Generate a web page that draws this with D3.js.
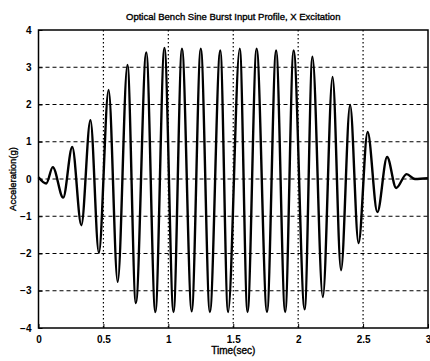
<!DOCTYPE html>
<html>
<head>
<meta charset="utf-8">
<script src="https://cdn.jsdelivr.net/npm/d3@7/dist/d3.min.js"></script>
<style>
  body { margin: 0; background: #fff; }
  text { font-family: "Liberation Sans", Arial, sans-serif; fill: #000; }
</style>
</head>
<body>
<div class="chart"></div>
<script>
// chart data (extremes of the burst)
var times = [0, 0.06, 0.11, 0.19, 0.26, 0.33, 0.40, 0.465, 0.54, 0.61, 0.685,
  0.75, 0.83, 0.90, 0.97, 1.04, 1.105, 1.18, 1.25, 1.32, 1.40, 1.46, 1.55,
  1.61, 1.68, 1.76, 1.83, 1.90, 1.965, 2.05, 2.11, 2.19, 2.265, 2.33, 2.40,
  2.465, 2.535, 2.61, 2.685, 2.755, 2.835, 2.9, 3.0];
var accel = [0.05, -0.12, 0.32, -0.5, 0.86, -1.24, 1.58, -1.98, 2.39, -2.76, 3.06,
  -3.33, 3.4, -3.57, 3.52, -3.57, 3.5, -3.55, 3.5, -3.57, 3.45, -3.57, 3.5,
  -3.57, 3.5, -3.57, 3.45, -3.57, 3.45, -3.5, 3.28, -3.17, 2.74, -2.45, 1.99,
  -1.72, 1.26, -0.89, 0.59, -0.24, 0.13, 0.0, 0.02];
var xTicks = [0, 0.5, 1, 1.5, 2, 2.5, 3];
var xTickLabels = ["0", "0.5", "1", "1.5", "2", "2.5", "3"];
var yTicks = [-4, -3, -2, -1, 0, 1, 2, 3, 4];

var svgWidth = 430;
var svgHeight = 361;
var margin = { top: 30, right: 2, bottom: 33, left: 38.5 };
var width = svgWidth - margin.left - margin.right;
var height = svgHeight - margin.top - margin.bottom;

var svg = d3.select(".chart").append("svg")
  .attr("width", svgWidth)
  .attr("height", svgHeight);

var chart = svg.append("g")
  .attr("transform", "translate(" + margin.left + "," + margin.top + ")");

var x = d3.scaleLinear().domain([0, 3]).range([0, width]);
var y = d3.scaleLinear().domain([-4, 4]).range([height, 0]);

// dotted grid
chart.append("g").selectAll("line")
  .data(xTicks.slice(1, -1))
  .enter().append("line")
  .attr("x1", function(d) { return x(d); })
  .attr("x2", function(d) { return x(d); })
  .attr("y1", 0).attr("y2", height)
  .attr("stroke", "#000").attr("stroke-width", 1.2)
  .attr("stroke-dasharray", "1.5,2.5");

chart.append("g").selectAll("line")
  .data(yTicks.slice(1, -1))
  .enter().append("line")
  .attr("y1", function(d) { return y(d); })
  .attr("y2", function(d) { return y(d); })
  .attr("x1", 0).attr("x2", width)
  .attr("stroke", "#000").attr("stroke-width", 1.2)
  .attr("stroke-dasharray", "4,3");

// axes (ticks inward like matlab)
var bottomAxis = d3.axisBottom(x).tickValues(xTicks)
  .tickFormat(function(d, i) { return xTickLabels[i]; })
  .tickSizeInner(-4).tickSizeOuter(0).tickPadding(8);
var leftAxis = d3.axisLeft(y).tickValues(yTicks)
  .tickSizeInner(-4).tickSizeOuter(0).tickPadding(7);

var gx = chart.append("g")
  .attr("transform", "translate(0," + height + ")")
  .call(bottomAxis);
var gy = chart.append("g").call(leftAxis);

[gx, gy].forEach(function(g) {
  g.select(".domain").remove();
  g.selectAll("line").attr("stroke", "#000");
  g.selectAll("text")
    .style("font-size", "10px")
    .style("font-weight", "bold")
    .style("font-family", "'Liberation Sans', Arial, sans-serif");
});

// frame
chart.append("rect")
  .attr("width", width).attr("height", height)
  .attr("fill", "none").attr("stroke", "#000").attr("stroke-width", 1.5);

// signal
var line = d3.line()
  .x(function(d, i) { return x(times[i]); })
  .y(function(d) { return y(d); })
  .curve(d3.curveMonotoneX);

chart.append("path")
  .datum(accel)
  .attr("d", line)
  .attr("fill", "none")
  .attr("stroke", "#000")
  .attr("stroke-width", 2.4)
  .attr("stroke-linejoin", "round");

// title and axis labels (slightly heavy, like the scan)
svg.append("text")
  .attr("x", margin.left + width / 2)
  .attr("y", 20)
  .attr("text-anchor", "middle")
  .style("font-size", "9.5px")
  .style("stroke", "#000").style("stroke-width", 0.35)
  .text("Optical Bench Sine Burst Input Profile, X Excitation");

svg.append("text")
  .attr("x", margin.left + width / 2)
  .attr("y", 354)
  .attr("text-anchor", "middle")
  .style("font-size", "10px")
  .style("stroke", "#000").style("stroke-width", 0.35)
  .text("Time(sec)");

svg.append("text")
  .attr("transform", "translate(16," + (margin.top + height / 2) + ") rotate(-90)")
  .attr("text-anchor", "middle")
  .style("font-size", "9.5px")
  .style("stroke", "#000").style("stroke-width", 0.35)
  .text("Acceleration(g)");
</script>
</body>
</html>
